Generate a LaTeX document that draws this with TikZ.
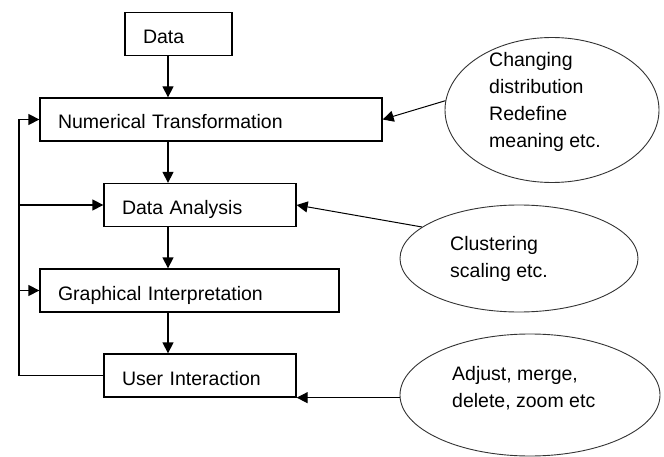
\documentclass[tikz,border=0pt]{standalone}
\usepackage{fontspec}
\setmainfont{Liberation Sans}
\usetikzlibrary{arrows.meta,shapes.geometric}
\begin{document}
\begin{tikzpicture}[x=1pt,y=-1pt,
  every node/.style={font=\fontsize{19.5}{27}\selectfont},
  stagebox/.style={draw,line width=1.3pt,inner xsep=18pt,inner ysep=0pt,align=left,
    minimum height=43pt,text height=19pt,text depth=0pt},
  bubble/.style={draw=black!80,line width=0.9pt,ellipse,inner sep=0pt},
  note/.style={anchor=base west,align=left,inner sep=0pt},
  arr/.style={line width=1.3pt,-{Triangle[length=11pt,width=11pt]}},
  feed/.style={line width=1pt,-{Triangle[length=11pt,width=11pt]}}]
\useasboundingbox (0,0) rectangle (664,457);
% process boxes
\node[stagebox,text width=71pt]  (data) at (178.5,34)   {Data};
\node[stagebox,text width=306pt] (nt)   at (211,119.5)  {Numerical Transformation};
\node[stagebox,text width=156pt] (da)   at (200,205)    {Data Analysis};
\node[stagebox,text width=263pt] (gi)   at (189.5,290.5){Graphical Interpretation};
\node[stagebox,text width=156pt] (ui)   at (200,375.5)  {User Interaction};
% ellipses
\node[bubble,minimum width=214pt,minimum height=145pt] (e1) at (552,110) {};
\node[bubble,minimum width=238pt,minimum height=107pt] (e2) at (519,258.5) {};
\node[bubble,minimum width=260pt,minimum height=122pt] (e3) at (530,395) {};
\node[note] (t1) at (489,148) {Changing\\distribution\\Redefine\\meaning etc.};
\node[note] (t2) at (450,277) {Clustering\\scaling etc.};
\node[note] (t3) at (452,407) {Adjust, merge,\\delete, zoom etc};
% helper coordinates
\coordinate (spine) at (168,0);
\coordinate (loop) at (19,0);
% main flow
\draw[arr] (data.south -| spine) -- (nt.north -| spine);
\draw[arr] (nt.south -| spine) -- (da.north -| spine);
\draw[arr] (da.south -| spine) -- (gi.north -| spine);
\draw[arr] (gi.south -| spine) -- (ui.north -| spine);
% feedback loop
\draw[arr] (ui.west) -- (ui.west -| loop) |- (nt.west);
\draw[arr] (da.west -| loop) -- (da.west);
\draw[arr] (gi.west -| loop) -- (gi.west);
% ellipse inputs
\draw[feed] (e1.175) -- (nt.east);
\draw[feed] (e2.162) -- (da.east);
\draw[feed] (e3.west |- ui.south east) -- (ui.south east);
\end{tikzpicture}
\end{document}
